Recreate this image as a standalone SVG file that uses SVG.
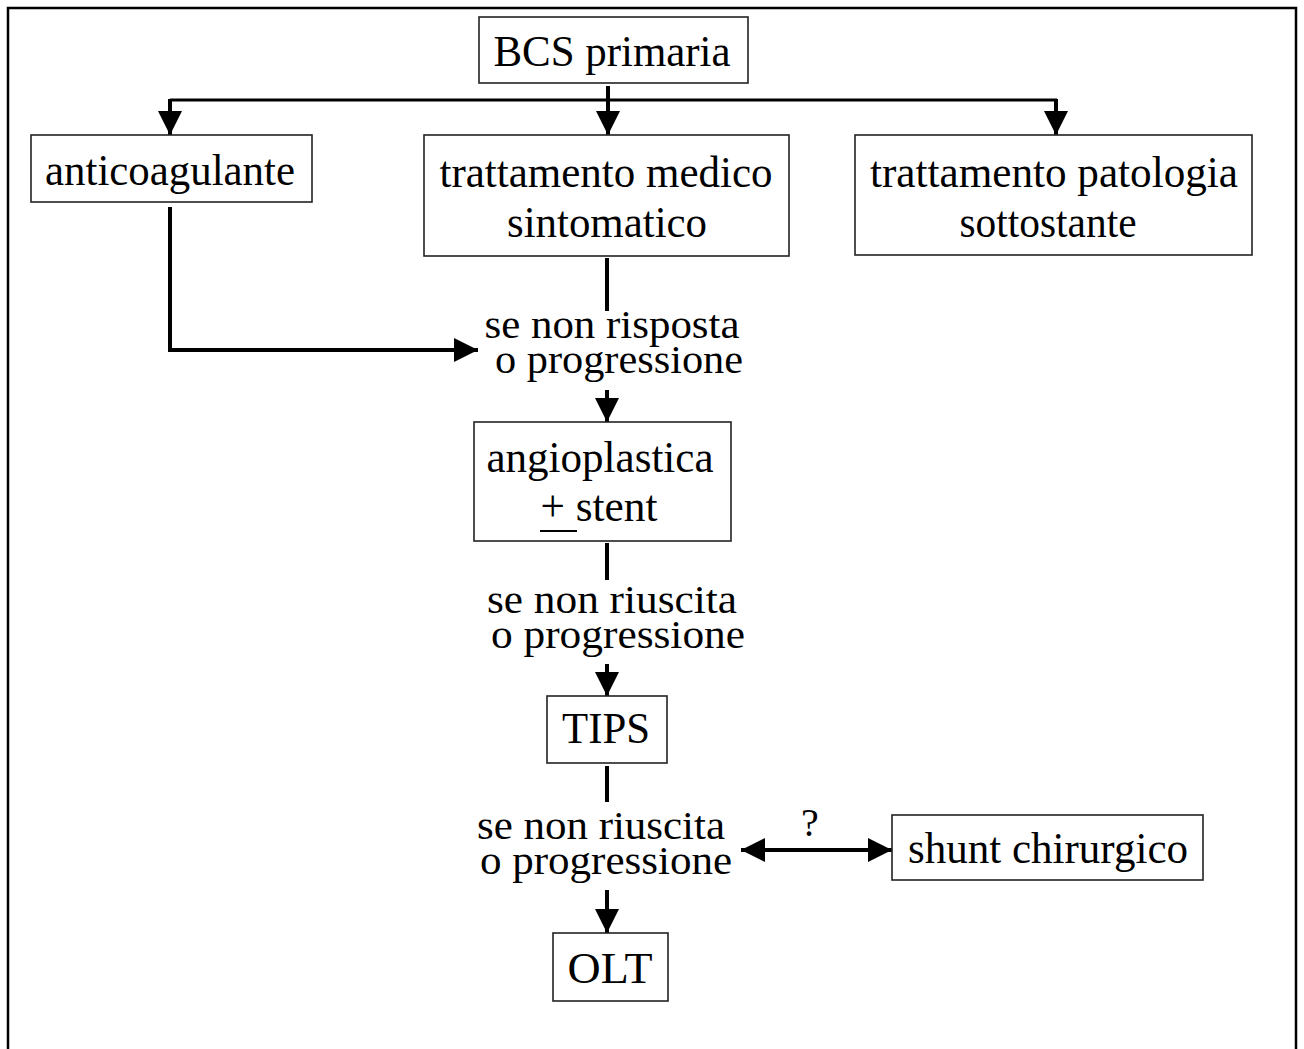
<svg xmlns="http://www.w3.org/2000/svg" width="1304" height="1049" viewBox="0 0 1304 1049">
<style>
.box{fill:#fff;stroke:#222;stroke-width:1.6}
.t{font-family:"Liberation Serif","Times New Roman",serif;font-size:44px;fill:#000;text-anchor:middle}
.l{font-size:40px}
.c{fill:none;stroke:#000;stroke-width:4}
.thin{fill:none;stroke:#000;stroke-width:3}
</style>
<defs>
<marker id="ah" markerUnits="userSpaceOnUse" markerWidth="24" markerHeight="24" refX="24" refY="12" orient="auto">
<path d="M0,0 L24,12 L0,24 z" fill="#000"/>
</marker>
<marker id="as" markerUnits="userSpaceOnUse" markerWidth="24" markerHeight="24" refX="0" refY="12" orient="auto">
<path d="M24,0 L0,12 L24,24 z" fill="#000"/>
</marker>
</defs>
<rect width="1304" height="1049" fill="#fff"/>
<path d="M8,1049 L8,8 L1296,8 L1296,1049" fill="none" stroke="#000" stroke-width="2.5"/>

<g id="connectors">
<path class="c" d="M608,86 L608,135" marker-end="url(#ah)"/>
<path class="thin" d="M170,100 L1057,100"/>
<path class="c" d="M170,99 L170,135" marker-end="url(#ah)"/>
<path class="c" d="M1056,99 L1056,135" marker-end="url(#ah)"/>
<path class="c" d="M170,207 L170,350 L478,350" marker-end="url(#ah)"/>
<path class="c" d="M607,258 L607,311"/>
<path class="c" d="M607,390 L607,422" marker-end="url(#ah)"/>
<path class="c" d="M607,543 L607,580"/>
<path class="c" d="M607,664 L607,696" marker-end="url(#ah)"/>
<path class="c" d="M607,766 L607,802"/>
<path class="c" d="M607,890 L607,933" marker-end="url(#ah)"/>
<path class="c" d="M741,850 L892,850" marker-start="url(#as)" marker-end="url(#ah)"/>
</g>

<g id="label-risposta">
<text class="t l"><tspan x="612" y="338" textLength="255" lengthAdjust="spacingAndGlyphs">se non risposta</tspan><tspan x="619" y="373" textLength="248" lengthAdjust="spacingAndGlyphs">o progressione</tspan></text>
</g>
<g id="label-riuscita1">
<text class="t l"><tspan x="612" y="613" textLength="250" lengthAdjust="spacingAndGlyphs">se non riuscita</tspan><tspan x="618" y="648" textLength="254" lengthAdjust="spacingAndGlyphs">o progressione</tspan></text>
</g>
<g id="label-riuscita2">
<text class="t l"><tspan x="601" y="839" textLength="248" lengthAdjust="spacingAndGlyphs">se non riuscita</tspan><tspan x="606" y="874" textLength="252" lengthAdjust="spacingAndGlyphs">o progressione</tspan></text>
</g>
<g id="label-question">
<text class="t l" x="810" y="836">?</text>
</g>

<g id="bcs">
<rect class="box" x="479" y="17" width="269" height="66"/>
<text class="t" x="612" y="66" textLength="237" lengthAdjust="spacingAndGlyphs">BCS primaria</text>
</g>
<g id="anticoagulante">
<rect class="box" x="31" y="135" width="281" height="67"/>
<text class="t" x="170" y="185" textLength="250" lengthAdjust="spacingAndGlyphs">anticoagulante</text>
</g>
<g id="trattamento-medico">
<rect class="box" x="424" y="135" width="365" height="121"/>
<text class="t"><tspan x="606" y="187" textLength="333" lengthAdjust="spacingAndGlyphs">trattamento medico</tspan><tspan x="607" y="237" textLength="200" lengthAdjust="spacingAndGlyphs">sintomatico</tspan></text>
</g>
<g id="trattamento-patologia">
<rect class="box" x="855" y="135" width="397" height="120"/>
<text class="t"><tspan x="1054" y="187" textLength="368" lengthAdjust="spacingAndGlyphs">trattamento patologia</tspan><tspan x="1048" y="237" textLength="177" lengthAdjust="spacingAndGlyphs">sottostante</tspan></text>
</g>
<g id="angioplastica">
<rect class="box" x="474" y="422" width="257" height="119"/>
<text class="t"><tspan x="600" y="472" textLength="227" lengthAdjust="spacingAndGlyphs">angioplastica</tspan><tspan x="599" y="521" textLength="117" lengthAdjust="spacingAndGlyphs">+ stent</tspan></text>
<line x1="540" y1="531" x2="577" y2="531" stroke="#000" stroke-width="2"/>
</g>
<g id="tips">
<rect class="box" x="547" y="696" width="120" height="67"/>
<text class="t" x="606" y="743" textLength="88" lengthAdjust="spacingAndGlyphs">TIPS</text>
</g>
<g id="shunt">
<rect class="box" x="892" y="815" width="311" height="65"/>
<text class="t" x="1048" y="863" textLength="280" lengthAdjust="spacingAndGlyphs">shunt chirurgico</text>
</g>
<g id="olt">
<rect class="box" x="553" y="933" width="115" height="68"/>
<text class="t" x="610" y="983" textLength="85" lengthAdjust="spacingAndGlyphs">OLT</text>
</g>
</svg>
